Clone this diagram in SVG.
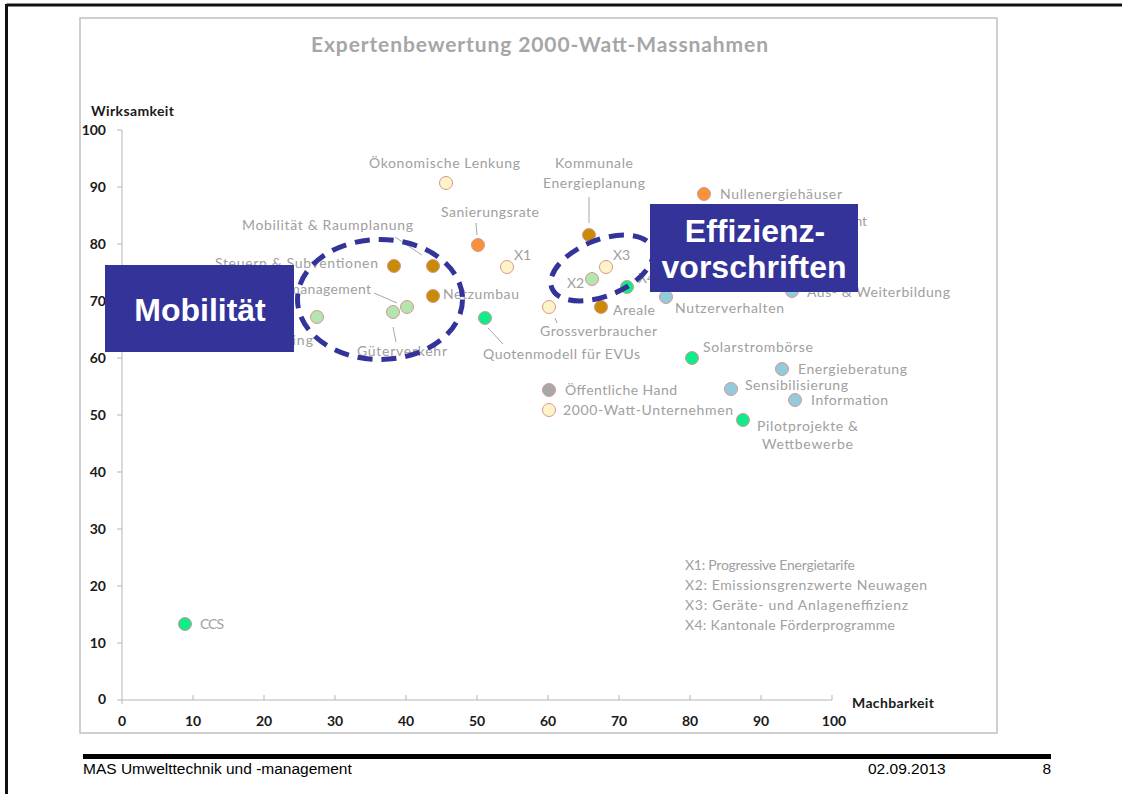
<svg xmlns="http://www.w3.org/2000/svg" width="1122" height="794" viewBox="0 0 1122 794">
<style>
.lbl{font-family:Lato,"Liberation Sans",sans-serif;font-size:14px;fill:#a0a0a0}
.tick{font-family:Lato,"Liberation Sans",sans-serif;font-size:14px;font-weight:bold;fill:#1a1a1a}
.ttl{font-family:Lato,"Liberation Sans",sans-serif;font-size:21px;font-weight:bold;fill:#a6a6a6}
.pt{stroke:#d9968f;stroke-width:1}
.yel{fill:#fff3c8}.ora{fill:#f7923a}.brn{fill:#c98a06}.lgr{fill:#b2e6b0}.grn{fill:#10ec8c}.blu{fill:#92cbdc}.gry{fill:#a8a8a8}
.lead{stroke:#a6a6a6;stroke-width:1;fill:none}
.ax{stroke:#b5b5b5;stroke-width:1;fill:none}
.ell{fill:none;stroke:#333399;stroke-width:5;stroke-dasharray:15 9}
.box{fill:#333399}
.big{font-family:"Liberation Sans",Arial,sans-serif;font-size:32px;font-weight:bold;fill:#ffffff;text-anchor:middle}
.foot{font-family:"Liberation Sans",Arial,sans-serif;font-size:15.5px;fill:#000}
</style>
<rect width="1122" height="794" fill="#ffffff"/>
<!-- slide frame -->
<line x1="6.5" y1="5" x2="1122" y2="5" stroke="#111" stroke-width="3"/>
<line x1="6.5" y1="4" x2="6.5" y2="794" stroke="#111" stroke-width="3"/>
<rect x="80" y="18" width="917" height="715" fill="#fff" stroke="#c0c0c0" stroke-width="1.5"/>
<text class="ttl" x="311" y="52" textLength="457">Expertenbewertung 2000-Watt-Massnahmen</text>
<!-- axes -->
<g id="axes">
<path class="ax" d="M122,130V704M122,700H832"/>
<path class="ax" d="M117,130H122M117,187H122M117,244H122M117,301H122M117,358H122M117,415H122M117,472H122M117,529H122M117,586H122M117,643H122M117,700H122"/>
<path class="ax" d="M193,695V700M264,695V700M335,695V700M406,695V700M477,695V700M548,695V700M619,695V700M690,695V700M761,695V700M832,695V700"/>
<text class="tick" x="91" y="116" textLength="83">Wirksamkeit</text>
<text class="tick" x="852" y="708" textLength="82">Machbarkeit</text>
<g text-anchor="end">
<text class="tick" x="106" y="135">100</text>
<text class="tick" x="106" y="192">90</text>
<text class="tick" x="106" y="249">80</text>
<text class="tick" x="106" y="306">70</text>
<text class="tick" x="106" y="363">60</text>
<text class="tick" x="106" y="420">50</text>
<text class="tick" x="106" y="477">40</text>
<text class="tick" x="106" y="534">30</text>
<text class="tick" x="106" y="591">20</text>
<text class="tick" x="106" y="648">10</text>
<text class="tick" x="106" y="704">0</text>
</g>
<g text-anchor="middle">
<text class="tick" x="122" y="726">0</text>
<text class="tick" x="193" y="726">10</text>
<text class="tick" x="264" y="726">20</text>
<text class="tick" x="335" y="726">30</text>
<text class="tick" x="406" y="726">40</text>
<text class="tick" x="477" y="726">50</text>
<text class="tick" x="548" y="726">60</text>
<text class="tick" x="619" y="726">70</text>
<text class="tick" x="690" y="726">80</text>
<text class="tick" x="761" y="726">90</text>
<text class="tick" x="834" y="726">100</text>
</g>
</g>
<!-- connectors -->
<g id="connectors">
<line class="lead" x1="476" y1="223" x2="477" y2="235"/>
<line class="lead" x1="395" y1="237" x2="422" y2="255"/>
<line class="lead" x1="374" y1="293" x2="397" y2="303"/>
<line class="lead" x1="393" y1="327" x2="396" y2="342"/>
<line class="lead" x1="589" y1="197" x2="589" y2="223"/>
<line class="lead" x1="488" y1="328" x2="503" y2="344"/>
<line class="lead" x1="555" y1="318" x2="557" y2="323"/>
</g>
<!-- nodes -->
<g id="n-oekonomische-lenkung"><circle class="pt yel" cx="446" cy="183" r="6.5"/><text class="lbl" x="369" y="168" textLength="151">Ökonomische Lenkung</text></g>
<g id="n-sanierungsrate"><circle class="pt ora" cx="478" cy="245" r="6.5"/><text class="lbl" x="441" y="217" textLength="98">Sanierungsrate</text></g>
<g id="n-steuern"><circle class="pt brn" cx="394" cy="266" r="6.5"/><text class="lbl" x="215" y="268" textLength="163">Steuern &amp; Subventionen</text></g>
<g id="n-mobilitaet-raumplanung"><circle class="pt brn" cx="433" cy="266" r="6.5"/><text class="lbl" x="242" y="230" textLength="171">Mobilität &amp; Raumplanung</text></g>
<g id="n-netzumbau"><circle class="pt brn" cx="433" cy="296" r="6.5"/><text class="lbl" x="443" y="299" textLength="76">Netzumbau</text></g>
<g id="n-mobilitaetsmanagement"><circle class="pt lgr" cx="407" cy="307" r="6.5"/><text class="lbl" x="223" y="294" textLength="148">Mobilitätsmanagement</text></g>
<g id="n-gueterverkehr"><circle class="pt lgr" cx="393" cy="312" r="6.5"/><text class="lbl" x="357" y="356" textLength="90">Güterverkehr</text></g>
<g id="n-mobility-pricing"><circle class="pt lgr" cx="317" cy="317" r="6.5"/><text class="lbl" x="201" y="345" textLength="112">Mobility Pricing</text></g>
<g id="n-x1"><circle class="pt yel" cx="507" cy="267" r="6.5"/><text class="lbl" x="514" y="260">X1</text></g>
<g id="n-kommunale"><circle class="pt brn" cx="589" cy="235" r="6.5"/><text class="lbl" x="555" y="168" textLength="78">Kommunale</text><text class="lbl" x="543" y="188" textLength="102">Energieplanung</text></g>
<g id="n-x3"><circle class="pt yel" cx="606" cy="267" r="6.5"/><text class="lbl" x="613" y="260">X3</text></g>
<g id="n-x2"><circle class="pt lgr" cx="592" cy="279" r="6.5"/><text class="lbl" x="567" y="288">X2</text></g>
<g id="n-x4"><circle class="pt grn" cx="627" cy="287" r="6.5"/><text class="lbl" x="638" y="283">X4</text></g>
<g id="n-areale"><circle class="pt brn" cx="601" cy="307" r="6.5"/><text class="lbl" x="613" y="315" textLength="42">Areale</text></g>
<g id="n-grossverbraucher"><circle class="pt yel" cx="549" cy="307" r="6.5"/><text class="lbl" x="540" y="336" textLength="117">Grossverbraucher</text></g>
<g id="n-quotenmodell"><circle class="pt grn" cx="485" cy="318" r="6.5"/><text class="lbl" x="483" y="359" textLength="157">Quotenmodell für EVUs</text></g>
<g id="n-nullenergiehaeuser"><circle class="pt ora" cx="704" cy="194" r="6.5"/><text class="lbl" x="720" y="199" textLength="122">Nullenergiehäuser</text></g>
<g id="n-energiemanagement"><circle class="pt blu" cx="735" cy="221" r="6.5"/><text class="lbl" x="747" y="226" textLength="120">Energiemanagement</text></g>
<g id="n-weiterbildung"><circle class="pt blu" cx="792" cy="291" r="6.5"/><text class="lbl" x="807" y="297" textLength="143">Aus- &amp; Weiterbildung</text></g>
<g id="n-nutzerverhalten"><circle class="pt blu" cx="666" cy="297" r="6.5"/><text class="lbl" x="675" y="313" textLength="109">Nutzerverhalten</text></g>
<g id="n-solarstromboerse"><circle class="pt grn" cx="692" cy="358" r="6.5"/><text class="lbl" x="703" y="352" textLength="110">Solarstrombörse</text></g>
<g id="n-energieberatung"><circle class="pt blu" cx="782" cy="369" r="6.5"/><text class="lbl" x="798" y="374" textLength="109">Energieberatung</text></g>
<g id="n-oeffentliche-hand"><circle class="pt gry" cx="549" cy="390" r="6.5"/><text class="lbl" x="565" y="395" textLength="112">Öffentliche Hand</text></g>
<g id="n-sensibilisierung"><circle class="pt blu" cx="731" cy="389" r="6.5"/><text class="lbl" x="745" y="390" textLength="103">Sensibilisierung</text></g>
<g id="n-information"><circle class="pt blu" cx="795" cy="400" r="6.5"/><text class="lbl" x="811" y="405" textLength="77">Information</text></g>
<g id="n-2000-watt"><circle class="pt yel" cx="549" cy="410" r="6.5"/><text class="lbl" x="563" y="415" textLength="170">2000-Watt-Unternehmen</text></g>
<g id="n-pilotprojekte"><circle class="pt grn" cx="743" cy="420" r="6.5"/><text class="lbl" x="757" y="431" textLength="101">Pilotprojekte &amp;</text><text class="lbl" x="762" y="449" textLength="91">Wettbewerbe</text></g>
<g id="n-ccs"><circle class="pt grn" cx="185" cy="624" r="6.5"/><text class="lbl" x="200" y="629" textLength="24">CCS</text></g>
<g id="legend">
<text class="lbl" x="685" y="570" textLength="170">X1: Progressive Energietarife</text>
<text class="lbl" x="685" y="590" textLength="242">X2: Emissionsgrenzwerte Neuwagen</text>
<text class="lbl" x="685" y="610" textLength="223">X3: Geräte- und Anlageneffizienz</text>
<text class="lbl" x="685" y="630" textLength="210">X4: Kantonale Förderprogramme</text>
</g>
<!-- highlight groups -->
<g id="ellipse-mobilitaet"><ellipse class="ell" cx="380" cy="299.5" rx="82.5" ry="60"/></g>
<g id="ellipse-effizienz"><ellipse class="ell" cx="602" cy="268" rx="54" ry="28" transform="rotate(-22 602 268)"/></g>
<g id="box-mobilitaet"><rect class="box" x="105" y="265" width="189" height="87"/><text class="big" x="200" y="321">Mobilität</text></g>
<g id="box-effizienz"><rect class="box" x="650" y="204" width="208" height="88"/><text class="big" x="755" y="242">Effizienz-</text><text class="big" x="754" y="278">vorschriften</text></g>
<!-- footer -->
<rect x="83" y="754" width="968" height="5" fill="#000"/>
<text class="foot" x="83" y="774">MAS Umwelttechnik und -management</text>
<text class="foot" x="868" y="774">02.09.2013</text>
<text class="foot" x="1051" y="774" text-anchor="end">8</text>
</svg>
